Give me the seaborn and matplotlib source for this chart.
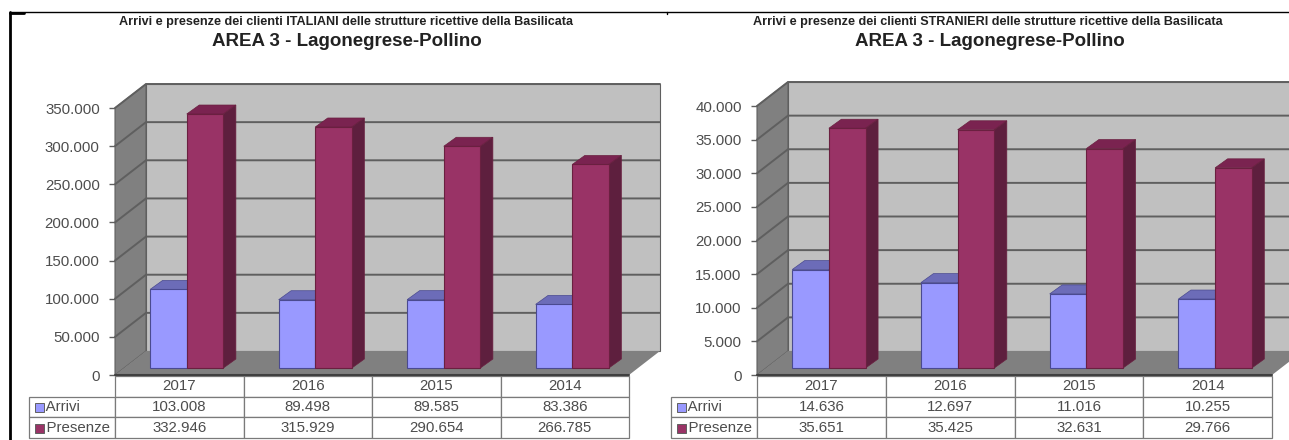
import matplotlib
matplotlib.use("Agg")
import matplotlib.pyplot as plt
from matplotlib.lines import Line2D
from matplotlib.patches import Polygon, Rectangle
from matplotlib.ticker import FuncFormatter
import pandas as pd
import seaborn as sns

years = ["2017", "2016", "2015", "2014"]
series_names = ["Arrivi", "Presenze"]

italian_arrivals = [103008, 89498, 89585, 83386]
italian_stays = [332946, 315929, 290654, 266785]
foreign_arrivals = [14636, 12697, 11016, 10255]
foreign_stays = [35651, 35425, 32631, 29766]

italian_ticks = [0, 50000, 100000, 150000, 200000, 250000, 300000, 350000]
foreign_ticks = [0, 5000, 10000, 15000, 20000, 25000, 30000, 35000, 40000]

italian_title = "Arrivi e presenze dei clienti ITALIANI delle strutture ricettive della Basilicata"
foreign_title = "Arrivi e presenze dei clienti STRANIERI delle strutture ricettive della Basilicata"
area_title = "AREA 3 - Lagonegrese-Pollino"

W, H = 1289, 440
WALL = "#C0C0C0"
WALL_DARK = "#808080"
GRID = "#5f5f5f"
TEXT = "#4d4d4d"
BAR_FACE = {"Arrivi": "#9999FF", "Presenze": "#993366"}
BAR_TOP = {"Arrivi": "#6C6CB8", "Presenze": "#7A2350"}
BAR_SIDE = {"Arrivi": "#5A5A9A", "Presenze": "#5E1F3E"}
BAR_EDGE = {"Arrivi": "#4A4A90", "Presenze": "#6A2040"}

sns.set_theme(style="white")
plt.rcParams["font.family"] = ["Liberation Sans", "DejaVu Sans"]

fig = plt.figure(figsize=(W / 100, H / 100), dpi=100, facecolor="white")


def thousands(value, _pos=None):
    return f"{int(value):,}".replace(",", ".")


def draw_panel(left, right, top, baseline, ticks, arrivals, stays, title, title_x, area_x, title_size):
    ax = fig.add_axes([left / W, 1 - baseline / H, (right - left) / W, (baseline - top) / H])
    ymax = ticks[-1]
    px_x = 4 / (right - left)
    px_y = ymax / (baseline - top)

    frame = pd.DataFrame({
        "anno": years * 2,
        "serie": ["Arrivi"] * 4 + ["Presenze"] * 4,
        "valore": list(arrivals) + list(stays),
    })
    sns.barplot(data=frame, x="anno", y="valore", hue="serie", order=years,
                hue_order=series_names, palette=BAR_FACE, width=0.57,
                legend=False, ax=ax, saturation=1)
    ax.set_xlim(-0.5, 3.5)
    ax.set_ylim(0, ymax)
    ax.set_xlabel("")
    ax.set_ylabel("")
    ax.set_facecolor("none")
    for spine in ax.spines.values():
        spine.set_visible(False)

    # Box of the pseudo-3D plot: side wall, back wall and floor
    dx, dy = 31 * px_x, 24 * px_y
    x0, x1 = -0.5, 3.5
    ax.add_patch(Polygon([(x0 + dx, dy), (x1 + dx, dy), (x1 + dx, ymax + dy), (x0 + dx, ymax + dy)],
                         closed=True, fc=WALL, ec=GRID, lw=0.8, zorder=0.5, clip_on=False))
    ax.add_patch(Polygon([(x0, 0), (x0 + dx, dy), (x0 + dx, ymax + dy), (x0, ymax)],
                         closed=True, fc=WALL_DARK, ec=GRID, lw=0.8, zorder=0.6, clip_on=False))
    ax.add_patch(Polygon([(x0, 0), (x1, 0), (x1 + dx, dy), (x0 + dx, dy)],
                         closed=True, fc=WALL_DARK, ec="none", zorder=0.7, clip_on=False))
    for tick in ticks[1:]:
        ax.plot([x0, x0 + dx, x1 + dx], [tick, tick + dy, tick + dy], color=GRID, lw=1.4,
                zorder=0.8, clip_on=False, solid_joinstyle="miter")
    ax.plot([x0, x1], [0, 0], color="#404040", lw=1.5, zorder=5, clip_on=False)

    # Bars stand mid-way into the floor, each with a top and a side face
    shift_x, shift_y = 7.5 * px_x, 7 * px_y
    depth_x, depth_y = 12.5 * px_x, 9 * px_y
    for order, (name, container) in enumerate(zip(series_names, ax.containers)):
        for bar in container:
            xa = bar.get_x() + shift_x
            xb = xa + bar.get_width()
            h = bar.get_height()
            bar.set_x(xa)
            bar.set_y(shift_y)
            bar.set_edgecolor(BAR_EDGE[name])
            bar.set_linewidth(0.8)
            bar.set_zorder(3 + order)
            bar.set_clip_on(False)
            base = shift_y
            ax.add_patch(Polygon([(xa, base + h), (xb, base + h), (xb + depth_x, base + h + depth_y),
                                  (xa + depth_x, base + h + depth_y)], closed=True,
                                 fc=BAR_TOP[name], ec=BAR_EDGE[name], lw=0.5,
                                 zorder=2.5 + order, clip_on=False))
            ax.add_patch(Polygon([(xb, base), (xb + depth_x, base + depth_y),
                                  (xb + depth_x, base + h + depth_y), (xb, base + h)], closed=True,
                                 fc=BAR_SIDE[name], ec=BAR_EDGE[name], lw=0.5,
                                 zorder=2.5 + order, clip_on=False))

    ax.set_yticks(ticks)
    ax.yaxis.set_major_formatter(FuncFormatter(thousands))
    ax.tick_params(axis="y", left=True, length=4, width=1, color=GRID, labelcolor=TEXT,
                   labelsize=10.8, pad=7)
    ax.tick_params(axis="x", bottom=False, labelbottom=False)

    # Data table under the plot, with the legend keys in its first column
    span = right - left
    height = baseline - top
    table_left = left - 86
    cells = [[""] + years,
             ["    " + series_names[0]] + [thousands(v) for v in arrivals],
             ["    " + series_names[1]] + [thousands(v) for v in stays]]
    table = ax.table(cellText=cells, cellLoc="center",
                     colWidths=[86 / span] + [0.25] * 4,
                     bbox=[(table_left - left) / span, -63 / height, (span + 86) / span, 62 / height])
    table.auto_set_font_size(False)
    for (row, col), cell in table.get_celld().items():
        cell.set_edgecolor("#7a7a7a")
        cell.set_linewidth(0.9)
        cell.set_facecolor("white")
        cell.get_text().set_fontsize(10.8)
        cell.get_text().set_color(TEXT)
        cell.set_clip_on(False)
        if col == 0:
            cell.get_text().set_ha("left")
            cell.PAD = 0.012
        if row == 0 and col == 0:
            cell.set_visible(False)
    for row, name in enumerate(series_names):
        key_y = 397 + 10.5 + row * 20.5
        fig.add_artist(Rectangle(((table_left + 6) / W, 1 - (key_y + 4.5) / H), 8.5 / W, 9 / H,
                                 transform=fig.transFigure, fc=BAR_FACE[name], ec="#606060",
                                 lw=0.7, zorder=10))

    fig.text(title_x / W, 1 - 22 / H, title, ha="center", va="center", color="#222222",
             fontsize=title_size, fontweight="bold")
    fig.text(area_x / W, 1 - 41 / H, area_title, ha="center", va="center", color="#222222",
             fontsize=13.5, fontweight="bold")
    return ax


draw_panel(115, 629, 108, 375, italian_ticks, italian_arrivals, italian_stays,
           italian_title, 346, 347, 9.1)
draw_panel(757, 1272, 106, 375, foreign_ticks, foreign_arrivals, foreign_stays,
           foreign_title, 988, 990, 9.1)

# Black frame of the page around the two charts
for xs, ys, lw in [((9.5, 1289), (12.5, 12.5), 1.0), ((10, 10), (12, 440), 2.0),
                   ((10, 24), (13.5, 13.5), 2.0), ((666.5, 666.5), (12, 14), 1.0)]:
    fig.add_artist(Line2D([x / W for x in xs], [1 - y / H for y in ys],
                          transform=fig.transFigure, color="black", lw=lw))

fig.savefig("out.png", dpi=100)
